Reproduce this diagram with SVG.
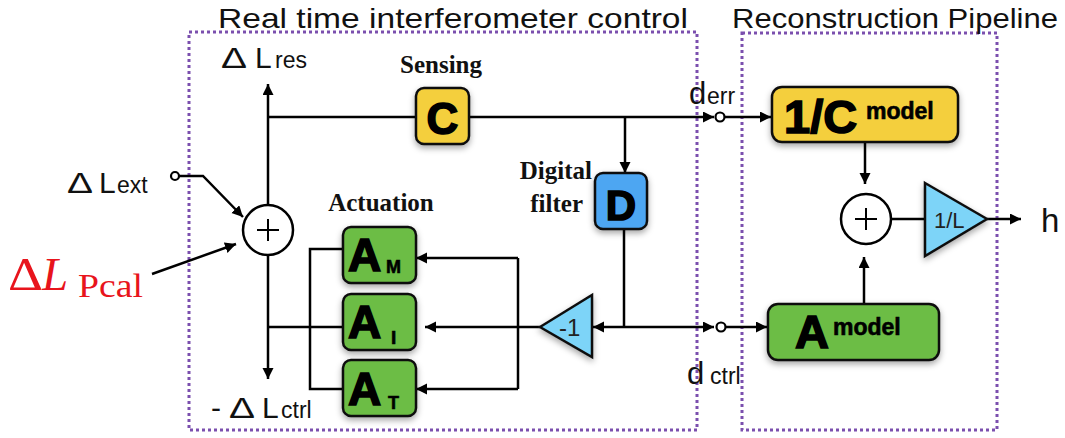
<svg xmlns="http://www.w3.org/2000/svg" width="1065" height="438" viewBox="0 0 1065 438">
<style>
.ln{fill:none;stroke:#000;stroke-width:2.5}
.ar{marker-end:url(#ah)}
.frame{fill:none;stroke:#7b4fae;stroke-width:3;stroke-dasharray:3 3}
.title{font-family:"Liberation Sans",Arial,sans-serif;font-size:28px;fill:#111}
.lbl{font-family:"Liberation Sans",Arial,sans-serif;fill:#111}
.big{font-size:30px}
.sub{font-size:23px}
.bs{font-family:"Liberation Serif","Times New Roman",serif;font-weight:bold;font-size:25px;fill:#111}
.box{stroke:#111;stroke-width:2.5;filter:url(#sh)}
.y{fill:#f4cf3e}
.g{fill:#6cbd45}
.b{fill:#4da6f2}
.t{fill:#7dd4f8;stroke:#111;stroke-width:2.5;filter:url(#sh)}
.bt{font-family:"Liberation Sans",Arial,sans-serif;font-weight:bold;fill:#000;stroke:#000;stroke-width:1.6}
.st{font-family:"Liberation Sans",Arial,sans-serif;font-weight:bold;fill:#000;stroke:#000;stroke-width:0.6}
.sum{fill:#fff;stroke:#000;stroke-width:2.5}
.tri{font-family:"Liberation Sans",Arial,sans-serif;fill:#222}
.dot{fill:#fff;stroke:#000;stroke-width:2.2}
</style>
<defs>
<marker id="ah" markerUnits="userSpaceOnUse" markerWidth="12" markerHeight="12" refX="11" refY="5.5" orient="auto">
<path d="M0,0 L11,5.5 L0,11 z" fill="#000"/>
</marker>
<filter id="sh" x="-30%" y="-30%" width="160%" height="170%">
<feDropShadow dx="0" dy="3" stdDeviation="3" flood-color="#000" flood-opacity="0.35"/>
</filter>
</defs>

<!-- frames and titles -->
<g id="rt-frame">
<rect class="frame" x="189" y="32" width="508" height="398"/>
<text class="title" x="218" y="28" textLength="470" lengthAdjust="spacingAndGlyphs">Real time interferometer control</text>
</g>
<g id="rp-frame">
<rect class="frame" x="742" y="33" width="255" height="397"/>
<text class="title" x="732" y="28" textLength="326" lengthAdjust="spacingAndGlyphs">Reconstruction Pipeline</text>
</g>

<!-- connectors -->
<g id="connectors">
<path class="ln ar" d="M179,176 L203,176 L243,217"/>
<path class="ln ar" d="M152,274 L236,244"/>
<path class="ln ar" d="M268,205 L268,84"/>
<path class="ln" d="M268,117 L416,117"/>
<path class="ln ar" d="M469,117 L714,117"/>
<path class="ln ar" d="M725,117 L771,117"/>
<path class="ln ar" d="M625,117 L625,173"/>
<path class="ln" d="M624,229 L624,327"/>
<path class="ln ar" d="M624,327 L593,327"/>
<path class="ln ar" d="M624,327 L714,327"/>
<path class="ln ar" d="M726,327 L767,327"/>
<path class="ln ar" d="M540,327 L425,327"/>
<path class="ln" d="M518,258 L518,389"/>
<path class="ln ar" d="M518,258 L416,258"/>
<path class="ln ar" d="M518,389 L416,389"/>
<path class="ln" d="M343,249 L310,249 L310,389 L343,389"/>
<path class="ln" d="M343,327 L268,327"/>
<path class="ln ar" d="M268,255 L268,379"/>
<path class="ln ar" d="M865,142 L865,184"/>
<path class="ln ar" d="M864,304 L864,257"/>
<path class="ln" d="M891,219 L925,219"/>
<path class="ln ar" d="M987,219 L1021,219"/>
<circle class="dot" cx="175" cy="176" r="4"/>
<circle class="dot" cx="720" cy="117" r="4.5"/>
<circle class="dot" cx="721" cy="327" r="4.5"/>
</g>

<!-- input / output labels -->
<g id="dL-res">
<text class="lbl big" x="221" y="68" textLength="26" lengthAdjust="spacingAndGlyphs">Δ</text>
<text class="lbl big" x="255" y="68">L</text>
<text class="lbl sub" x="275" y="68">res</text>
</g>
<g id="dL-ext">
<text class="lbl big" x="67" y="193" textLength="26" lengthAdjust="spacingAndGlyphs">Δ</text>
<text class="lbl big" x="99" y="193">L</text>
<text class="lbl sub" x="117" y="193">ext</text>
</g>
<g id="dL-ctrl">
<text class="lbl big" x="211" y="418">-</text>
<text class="lbl big" x="229" y="418" textLength="26" lengthAdjust="spacingAndGlyphs">Δ</text>
<text class="lbl big" x="262" y="418">L</text>
<text class="lbl sub" x="281" y="418">ctrl</text>
</g>
<g id="dL-pcal" font-family="'Liberation Serif','Times New Roman',serif" fill="#e8141c">
<text x="8" y="290" font-size="47" textLength="35" lengthAdjust="spacingAndGlyphs">Δ</text>
<text x="42" y="290" font-size="47" font-style="italic">L</text>
<text x="78" y="297" font-size="33" textLength="65" lengthAdjust="spacingAndGlyphs">Pcal</text>
</g>
<g id="d-err">
<text class="lbl" x="689" y="104" font-size="31">d</text>
<text class="lbl sub" x="707" y="104">err</text>
</g>
<g id="d-ctrl">
<text class="lbl" x="687" y="384" font-size="31">d</text>
<text class="lbl sub" x="710" y="384">ctrl</text>
</g>
<g id="h-out">
<text class="lbl" x="1041" y="232" font-size="33">h</text>
</g>

<!-- sum junctions -->
<g id="sum1">
<circle class="sum" cx="268" cy="230" r="25"/>
<path d="M257,230 H279 M268,219 V241" stroke="#000" stroke-width="2"/>
</g>
<g id="sum2">
<circle class="sum" cx="866" cy="219" r="25"/>
<path d="M855,219 H877 M866,208 V230" stroke="#000" stroke-width="2"/>
</g>

<!-- sensing -->
<g id="sensing">
<text class="bs" x="441" y="73" text-anchor="middle">Sensing</text>
<rect class="box y" x="416" y="88" width="53" height="56" rx="8"/>
<text class="bt" x="442.5" y="134" font-size="44" text-anchor="middle">C</text>
</g>

<!-- digital filter -->
<g id="digital-filter">
<text class="bs" x="592" y="179" text-anchor="end">Digital</text>
<text class="bs" x="583" y="212" text-anchor="end">filter</text>
<rect class="box b" x="595" y="173" width="52" height="56" rx="8"/>
<text class="bt" x="621" y="220" font-size="42" text-anchor="middle">D</text>
</g>

<!-- actuation -->
<g id="actuation-label">
<text class="bs" x="381" y="211" text-anchor="middle">Actuation</text>
</g>
<g id="A-M">
<rect class="box g" x="343" y="227" width="73" height="56" rx="8"/>
<text class="bt" x="348" y="271" font-size="46">A</text>
<text class="st" x="386" y="273" font-size="18">M</text>
</g>
<g id="A-I">
<rect class="box g" x="343" y="294" width="73" height="56" rx="8"/>
<text class="bt" x="348" y="338" font-size="46">A</text>
<text class="st" x="391" y="344" font-size="19">I</text>
</g>
<g id="A-T">
<rect class="box g" x="343" y="360" width="73" height="56" rx="8"/>
<text class="bt" x="348" y="405" font-size="46">A</text>
<text class="st" x="388" y="409" font-size="18">T</text>
</g>

<!-- -1 gain -->
<g id="neg1">
<path class="t" d="M540,327 L592,295 L592,357 z"/>
<text class="tri" x="559" y="336" font-size="24">-1</text>
</g>

<!-- reconstruction -->
<g id="inv-C-model">
<rect class="box y" x="772" y="87" width="186" height="55" rx="10"/>
<text class="bt" x="784" y="133" font-size="47">1/C</text>
<text class="st" x="866" y="119" font-size="23">model</text>
</g>
<g id="A-model">
<rect class="box g" x="768" y="304" width="171" height="56" rx="10"/>
<text class="bt" x="795" y="348" font-size="47">A</text>
<text class="st" x="833" y="335" font-size="23">model</text>
</g>
<g id="inv-L">
<path class="t" d="M925,183 L987,219 L925,256 z"/>
<text class="tri" x="934" y="228" font-size="22">1/L</text>
</g>
</svg>
